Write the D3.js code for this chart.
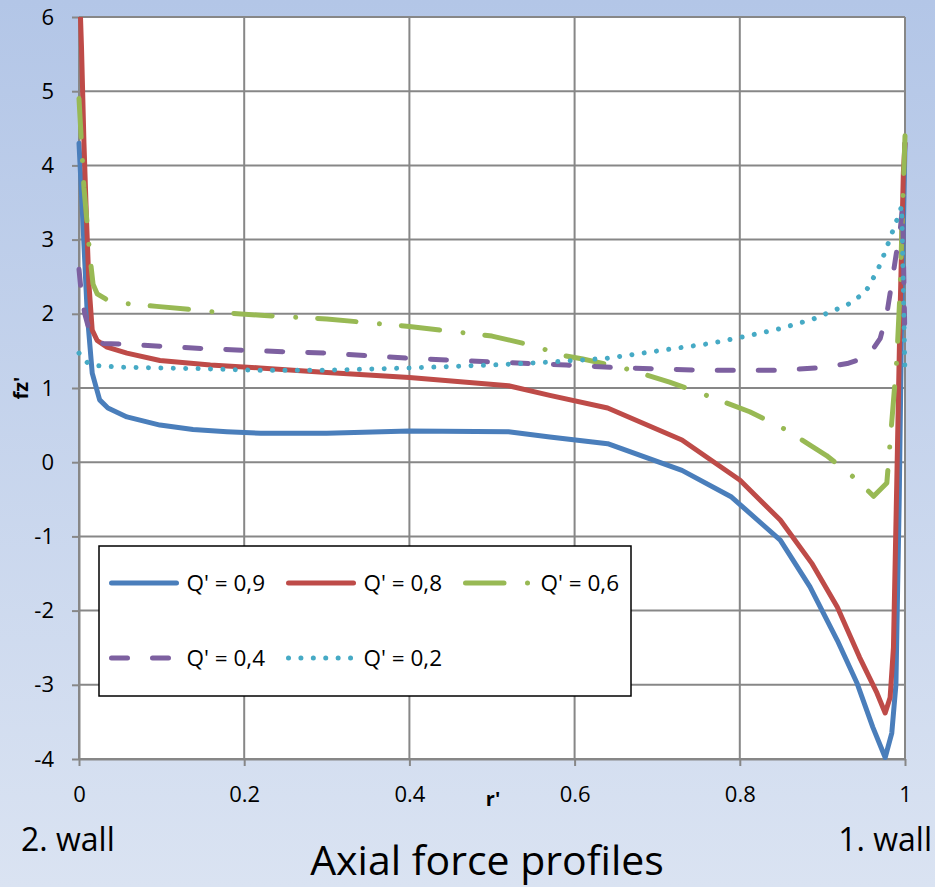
<!DOCTYPE html>
<html>
<head>
<meta charset="utf-8">
<script src="https://cdn.jsdelivr.net/npm/d3@7"></script>
<style>
body { margin: 0; }
text { font-family: "Open Sans", sans-serif; fill: #000; }
</style>
</head>
<body>
<div id="chart"></div>
<script>
var w = 935,
    h = 887,
    left = 79,
    right = 905,
    top_ = 17,
    bottom = 759;

var xTicks = [0, 0.2, 0.4, 0.6, 0.8, 1];
var yTicks = [-4, -3, -2, -1, 0, 1, 2, 3, 4, 5, 6];

var names = ["Q' = 0,9", "Q' = 0,8", "Q' = 0,6", "Q' = 0,4", "Q' = 0,2"];
var colors = ["#4a7ebb", "#be4b48", "#98b954", "#7d60a0", "#46aac5"];

// Q' = 0,9
var r09 = [0, 0.004, 0.01, 0.016, 0.025, 0.035, 0.058, 0.098, 0.138, 0.179, 0.22, 0.3, 0.4, 0.52, 0.57, 0.64, 0.73, 0.79, 0.849, 0.885, 0.918, 0.942, 0.961, 0.976, 0.984, 0.989, 0.993, 0.996, 1];
var f09 = [4.3, 3.4, 2.0, 1.2, 0.84, 0.73, 0.61, 0.50, 0.44, 0.41, 0.39, 0.39, 0.42, 0.41, 0.34, 0.25, -0.11, -0.47, -1.05, -1.68, -2.4, -2.98, -3.57, -3.98, -3.65, -3.0, -0.5, 2.0, 4.3];

// Q' = 0,8
var r08 = [0, 0.003, 0.006, 0.009, 0.012, 0.016, 0.022, 0.034, 0.058, 0.098, 0.159, 0.219, 0.3, 0.4, 0.52, 0.57, 0.64, 0.73, 0.80, 0.849, 0.887, 0.918, 0.945, 0.966, 0.976, 0.982, 0.986, 0.99, 0.994, 0.998, 1];
var f08 = [6.6, 5.6, 4.3, 3.3, 2.4, 1.78, 1.64, 1.55, 1.47, 1.37, 1.31, 1.27, 1.21, 1.14, 1.03, 0.9, 0.73, 0.30, -0.24, -0.78, -1.36, -1.95, -2.63, -3.11, -3.38, -3.17, -2.5, -0.3, 2.0, 3.9, 4.3];

// Q' = 0,6
var r06 = [0, 0.004, 0.006, 0.01, 0.013, 0.017, 0.022, 0.038, 0.064, 0.094, 0.143, 0.168, 0.22, 0.3, 0.4, 0.5, 0.55, 0.586, 0.61, 0.659, 0.715, 0.76, 0.812, 0.857, 0.905, 0.942, 0.962, 0.978, 0.99, 0.994, 0.997, 1];
var f06 = [4.9, 4.1, 3.7, 3.2, 2.8, 2.4, 2.27, 2.16, 2.13, 2.1, 2.05, 2.02, 1.98, 1.93, 1.83, 1.7, 1.57, 1.44, 1.39, 1.27, 1.08, 0.9, 0.68, 0.43, 0.09, -0.24, -0.46, -0.28, 1.37, 2.3, 3.4, 4.4];

// Q' = 0,4
var r04 = [0, 0.003, 0.007, 0.014, 0.029, 0.056, 0.104, 0.152, 0.22, 0.3, 0.4, 0.5, 0.59, 0.66, 0.75, 0.853, 0.905, 0.93, 0.955, 0.97, 0.978, 0.985, 0.99, 0.994, 0.997, 1];
var f04 = [2.6, 2.25, 2.0, 1.71, 1.6, 1.59, 1.56, 1.53, 1.5, 1.47, 1.4, 1.35, 1.31, 1.27, 1.24, 1.24, 1.28, 1.33, 1.42, 1.67, 2.0, 2.49, 2.85, 3.1, 3.45, 1.6];

// Q' = 0,2
var r02 = [0, 0.011, 0.024, 0.05, 0.1, 0.15, 0.21, 0.3, 0.4, 0.5, 0.57, 0.639, 0.707, 0.764, 0.804, 0.849, 0.889, 0.93, 0.952, 0.959, 0.966, 0.972, 0.977, 0.982, 0.987, 0.992, 0.996, 1];
var f02 = [1.47, 1.33, 1.3, 1.28, 1.27, 1.26, 1.24, 1.24, 1.27, 1.31, 1.35, 1.4, 1.51, 1.6, 1.69, 1.8, 1.93, 2.12, 2.29, 2.43, 2.57, 2.72, 2.87, 3.02, 3.17, 3.32, 3.45, 1.2];

var rAll = [r09, r08, r06, r04, r02];
var fAll = [f09, f08, f06, f04, f02];
var dashes = [null, null, "38.5 23.5 0.01 22", "16 25", "0.01 12.4"];

var series = names.map(function (n, i) {
    return {
        name: n,
        color: colors[i],
        dash: dashes[i],
        values: rAll[i].map(function (r, j) { return {r: r, f: fAll[i][j]}; })
    };
});

var svg = d3.select("#chart")
    .append("svg")
    .attr("width", w)
    .attr("height", h);

var defs = svg.append("defs");
var grad = defs.append("linearGradient")
    .attr("id", "bg")
    .attr("x1", 0).attr("y1", 0)
    .attr("x2", 0).attr("y2", 1);
grad.append("stop").attr("offset", "0%").attr("stop-color", "#b3c6e7");
grad.append("stop").attr("offset", "100%").attr("stop-color", "#dae3f2");

defs.append("clipPath")
    .attr("id", "clip")
    .append("rect")
    .attr("x", left - 3)
    .attr("y", top_)
    .attr("width", right - left + 6)
    .attr("height", bottom - top_ + 3);

svg.append("rect")
    .attr("width", w)
    .attr("height", h)
    .style("fill", "url(#bg)");

svg.append("rect")
    .attr("x", left)
    .attr("y", top_)
    .attr("width", right - left)
    .attr("height", bottom - top_)
    .style("fill", "#fff");

var x = d3.scaleLinear().domain([0, 1]).range([left, right]),
    y = d3.scaleLinear().domain([-4, 6]).range([bottom, top_]);

// grid
svg.append("g")
    .selectAll("line")
    .data(yTicks)
    .enter()
    .append("line")
    .attr("x1", left).attr("x2", right)
    .attr("y1", function (d) { return y(d); })
    .attr("y2", function (d) { return y(d); })
    .style("stroke", "#878787")
    .style("stroke-width", 2);

svg.append("g")
    .selectAll("line")
    .data(xTicks)
    .enter()
    .append("line")
    .attr("y1", top_).attr("y2", bottom)
    .attr("x1", function (d) { return x(d); })
    .attr("x2", function (d) { return x(d); })
    .style("stroke", "#878787")
    .style("stroke-width", 2);

var yAxis = d3.axisLeft(y)
    .tickValues(yTicks)
    .tickSize(7)
    .tickSizeOuter(0)
    .tickPadding(18)
    .tickFormat(function (d) { return String(d); });

var xAxis = d3.axisBottom(x)
    .tickValues(xTicks)
    .tickSize(7)
    .tickSizeOuter(0)
    .tickFormat(function (d) { return String(d); });

var gy = svg.append("g")
    .attr("transform", "translate(" + left + ",0)")
    .call(yAxis);

var gx = svg.append("g")
    .attr("transform", "translate(0," + bottom + ")")
    .call(xAxis);

[gx, gy].forEach(function (g) {
    g.select(".domain").style("stroke", "#878787").style("stroke-width", 2);
    g.selectAll(".tick line").style("stroke", "#878787").style("stroke-width", 2);
    g.selectAll(".tick text")
        .style("font-family", "'Open Sans', sans-serif")
        .style("font-size", "22px")
        .style("fill", "#000");
});

gx.selectAll(".tick text").attr("y", 43).attr("dy", 0);

// series
var line = d3.line()
    .x(function (d) { return x(d.r); })
    .y(function (d) { return y(d.f); });

svg.append("g")
    .attr("clip-path", "url(#clip)")
    .selectAll("path")
    .data(series)
    .enter()
    .append("path")
    .attr("d", function (d) { return line(d.values); })
    .style("fill", "none")
    .style("stroke", function (d) { return d.color; })
    .style("stroke-width", 5)
    .style("stroke-linecap", "round")
    .style("stroke-linejoin", "round")
    .style("stroke-dasharray", function (d) { return d.dash; });

// legend
var lg = svg.append("g");
lg.append("rect")
    .attr("x", 99)
    .attr("y", 546)
    .attr("width", 532)
    .attr("height", 150)
    .style("fill", "#fff")
    .style("stroke", "#000")
    .style("stroke-width", 1.5);

var items = lg.selectAll("g.item")
    .data(series)
    .enter()
    .append("g")
    .attr("class", "item")
    .attr("transform", function (d, i) {
        return "translate(" + (109 + (i % 3) * 177) + "," + (583 + Math.floor(i / 3) * 75) + ")";
    });

items.append("line")
    .attr("x1", 2.5).attr("x2", 67.5)
    .attr("y1", 0).attr("y2", 0)
    .style("stroke", function (d) { return d.color; })
    .style("stroke-width", 5)
    .style("stroke-linecap", "round")
    .style("stroke-dasharray", function (d) { return d.dash; });

items.append("text")
    .attr("x", 77.5)
    .attr("y", 8)
    .style("font-size", "22.5px")
    .text(function (d) { return d.name; });

// axis titles and notes
svg.append("text")
    .attr("transform", "translate(28,388) rotate(-90)")
    .attr("text-anchor", "middle")
    .style("font-size", "20px")
    .style("font-weight", "bold")
    .text("fz'");

svg.append("text")
    .attr("x", 493)
    .attr("y", 806)
    .attr("text-anchor", "middle")
    .style("font-size", "20px")
    .style("font-weight", "bold")
    .text("r'");

svg.append("text")
    .attr("x", 21)
    .attr("y", 851)
    .style("font-size", "32px")
    .text("2. wall");

svg.append("text")
    .attr("x", 932)
    .attr("y", 851)
    .attr("text-anchor", "end")
    .style("font-size", "32px")
    .text("1. wall");

svg.append("text")
    .attr("x", 487)
    .attr("y", 875)
    .attr("text-anchor", "middle")
    .style("font-size", "41px")
    .text("Axial force profiles");
</script>
</body>
</html>
